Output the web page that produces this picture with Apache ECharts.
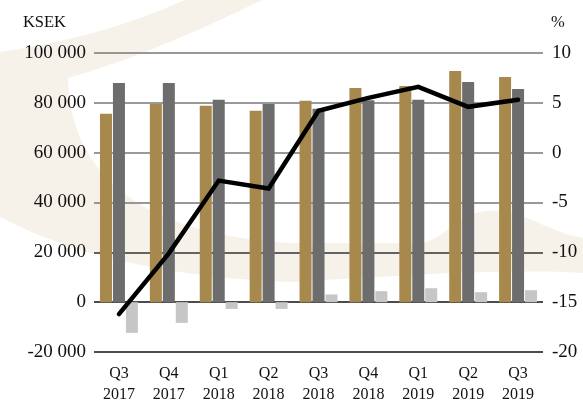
<!DOCTYPE html>
<html>
<head>
<meta charset="utf-8">
<script src="https://cdn.jsdelivr.net/npm/echarts@6/dist/echarts.min.js"></script>
<style>
  html, body { margin: 0; padding: 0; background: #fff; }
  #chart { width: 583px; height: 403px; }
</style>
</head>
<body>
<div id="chart"></div>
<script>
// kvartal
const categories = ['Q3\n2017', 'Q4\n2017', 'Q1\n2018', 'Q2\n2018', 'Q3\n2018', 'Q4\n2018', 'Q1\n2019', 'Q2\n2019', 'Q3\n2019'];
// KSEK, vänster axel
const goldBars = [75600, 79500, 78800, 76800, 80800, 86000, 86800, 92800, 90400];
const darkBars = [88000, 88000, 81200, 79500, 77600, 81000, 81200, 88400, 85600];
const lightBars = [-12300, -8300, -2700, -2700, 3100, 4400, 5600, 4000, 4800];
// %, höger axel
const percentLine = [-16.2, -10.1, -2.8, -3.6, 4.2, 5.5, 6.6, 4.6, 5.3];

const font = 'Liberation Serif';
const chart = echarts.init(document.getElementById('chart'));

// vattenstämpel i bakgrunden
const markPath = 'M 185 0 Q 100 38 0 52 L 0 217 Q 110 275 290 282 L 430 274 ' +
  'C 480 272 540 270 583 273 L 583 238 C 545 232 520 205 480 212 ' +
  'C 455 216 445 240 420 243 L 290 243 C 150 235 70 180 68 78 ' +
  'Q 150 55 262 0 Z';
let watermark;
try {
  echarts.graphic.registerShape('watermark', echarts.graphic.extendPath(markPath, {}));
  watermark = { type: 'watermark', z: -10, silent: true, shape: {}, style: { fill: '#f6f2ea' } };
} catch (err) {
  watermark = {
    type: 'polygon', z: -10, silent: true,
    shape: { points: [[185, 0], [100, 36], [0, 52], [0, 217], [110, 262], [290, 282], [583, 273], [583, 238], [500, 211], [470, 214], [420, 243], [290, 243], [150, 225], [90, 165], [68, 78], [160, 48], [262, 0]] },
    style: { fill: '#f6f2ea' }
  };
}

const option = {
  backgroundColor: '#fff',
  animation: false,
  graphic: { elements: [watermark] },
  grid: { left: 94, right: 40, top: 53, bottom: 51, outerBoundsMode: 'none', containLabel: false },
  xAxis: {
    type: 'category',
    data: categories,
    axisLine: { show: false },
    axisTick: { show: false },
    axisLabel: {
      margin: 11,
      color: '#111',
      fontFamily: font,
      fontSize: 16,
      lineHeight: 21
    }
  },
  yAxis: [{
    type: 'value',
    min: -20000,
    max: 100000,
    interval: 20000,
    name: 'KSEK',
    nameGap: 22,
    nameTextStyle: { color: '#111', fontFamily: font, fontSize: 16.5, align: 'right', padding: [0, 28, 0, 0] },
    axisLine: { show: false },
    axisTick: { show: false },
    axisLabel: {
      margin: 8,
      color: '#111',
      fontFamily: font,
      fontSize: 19,
      formatter: function (v) {
        return String(v).replace(/\B(?=(\d{3})+(?!\d))/g, ' ');
      }
    },
    splitLine: {
      lineStyle: {
        width: 1.5,
        color: ['#111', '#111', '#333', '#777', '#777', '#777', '#777']
      }
    }
  }, {
    type: 'value',
    min: -20,
    max: 10,
    interval: 5,
    name: '%',
    nameGap: 22,
    nameTextStyle: { color: '#111', fontFamily: font, fontSize: 16.5, align: 'left', padding: [0, 0, 0, 8] },
    axisLine: { show: false },
    axisTick: { show: false },
    axisLabel: { margin: 9, color: '#111', fontFamily: font, fontSize: 19 },
    splitLine: { show: false }
  }],
  series: [{
    type: 'bar',
    data: goldBars,
    barWidth: 12,
    barGap: '8%',
    itemStyle: { color: '#a8894d' }
  }, {
    type: 'bar',
    data: darkBars,
    barWidth: 12,
    barGap: '8%',
    itemStyle: { color: '#6d6d6d' }
  }, {
    type: 'bar',
    data: lightBars,
    barWidth: 12,
    barGap: '8%',
    itemStyle: { color: '#c6c6c6' }
  }, {
    type: 'line',
    yAxisIndex: 1,
    data: percentLine,
    symbol: 'none',
    z: 5,
    lineStyle: { color: '#000', width: 4.5, cap: 'round', join: 'miter' }
  }]
};

chart.setOption(option);
</script>
</body>
</html>
